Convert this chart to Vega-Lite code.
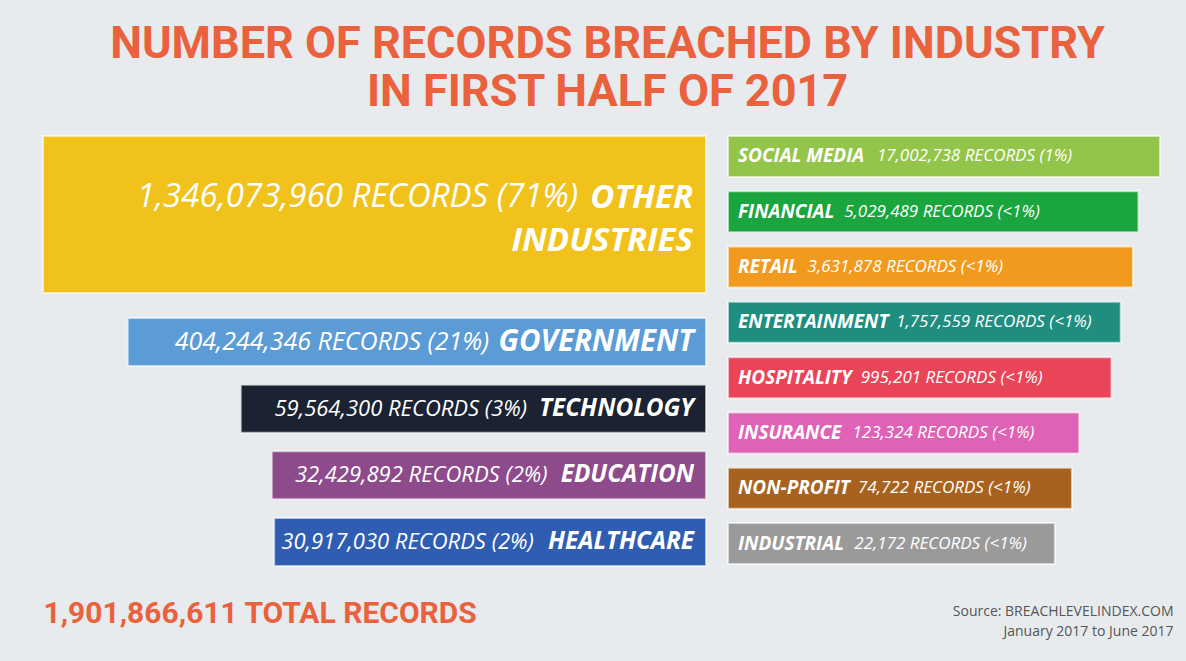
{
  "$schema": "https://vega.github.io/schema/vega-lite/v6.json",
  "background": "#e7ebee",
  "padding": {"left": 42, "right": 29, "top": 22, "bottom": 24},
  "title": {
    "text": ["NUMBER OF RECORDS BREACHED BY INDUSTRY", "IN FIRST HALF OF 2017"],
    "font": "Roboto",
    "fontSize": 45,
    "fontWeight": "bold",
    "color": "#e9613d",
    "anchor": "middle",
    "lineHeight": 48,
    "offset": 20
  },
  "datasets": {
    "breaches": [
      {"col": "left", "industry": "OTHER INDUSTRIES", "records": 1346073960, "pct": "71%"},
      {"col": "left", "industry": "GOVERNMENT", "records": 404244346, "pct": "21%"},
      {"col": "left", "industry": "TECHNOLOGY", "records": 59564300, "pct": "3%"},
      {"col": "left", "industry": "EDUCATION", "records": 32429892, "pct": "2%"},
      {"col": "left", "industry": "HEALTHCARE", "records": 30917030, "pct": "2%"},
      {"col": "right", "industry": "SOCIAL MEDIA", "records": 17002738, "pct": "1%"},
      {"col": "right", "industry": "FINANCIAL", "records": 5029489, "pct": "<1%"},
      {"col": "right", "industry": "RETAIL", "records": 3631878, "pct": "<1%"},
      {"col": "right", "industry": "ENTERTAINMENT", "records": 1757559, "pct": "<1%"},
      {"col": "right", "industry": "HOSPITALITY", "records": 995201, "pct": "<1%"},
      {"col": "right", "industry": "INSURANCE", "records": 123324, "pct": "<1%"},
      {"col": "right", "industry": "NON-PROFIT", "records": 74722, "pct": "<1%"},
      {"col": "right", "industry": "INDUSTRIAL", "records": 22172, "pct": "<1%"}
    ]
  },
  "spacing": 20,
  "hconcat": [
    {
      "spacing": 23,
      "vconcat": [
        {
          "width": 663,
          "height": 157,
          "data": {"name": "breaches"},
          "transform": [
            {"filter": "datum.industry === 'OTHER INDUSTRIES'"},
            {"calculate": "format(datum.records, ',') + ' RECORDS (' + datum.pct + ')'", "as": "detail"},
            {"calculate": "split(datum.industry, ' ')", "as": "lines"},
            {"calculate": "split(datum.industry, ' ')[0]", "as": "nm"},
            {"calculate": "0.93*length(replace(datum.nm, regexp('[^MW]','g'), '')) + 0.3*length(replace(datum.nm, regexp('[^I -]','g'), '')) + 0.55*length(replace(datum.nm, regexp('[^EFLTSYJZ]','g'), '')) + 0.75*length(replace(datum.nm, regexp('[^OQGCDNHU]','g'), '')) + 0.65*length(replace(datum.nm, regexp('[MWI EFLTSYJZOQGCDNHU-]','g'), ''))", "as": "em"},
            {"calculate": "-(13 + 33*datum.em*0.94 + 14)", "as": "off"}
          ],
          "encoding": {
            "y": {"field": "industry", "type": "nominal", "axis": null, "scale": {"paddingInner": 0, "paddingOuter": 0}}
          },
          "layer": [
            {
              "mark": {"type": "bar", "stroke": "#ffffff", "strokeWidth": 2, "strokeOpacity": 0.6},
              "encoding": {
                "x": {"field": "records", "type": "quantitative", "axis": null, "scale": {"type": "pow", "exponent": 0.1136, "domain": [0, 1346073960], "nice": false, "reverse": true}},
                "color": {"field": "industry", "type": "nominal", "legend": null,
                  "scale": {"domain": ["OTHER INDUSTRIES", "GOVERNMENT", "TECHNOLOGY", "EDUCATION", "HEALTHCARE", "SOCIAL MEDIA", "FINANCIAL", "RETAIL", "ENTERTAINMENT", "HOSPITALITY", "INSURANCE", "NON-PROFIT", "INDUSTRIAL"],
                            "range": ["#f1c21c", "#5b9bd6", "#1b2231", "#8d4b8c", "#2f5db1", "#93c54a", "#1aa53e", "#f29a1e", "#1f8e7e", "#ea4459", "#de63b6", "#a8621f", "#9a9a9a"]}}
              }
            },
            {
              "mark": {"type": "text", "align": "right", "baseline": "middle", "dx": -13, "dy": -17, "font": "Open Sans", "fontSize": 33, "fontWeight": "bold", "fontStyle": "italic", "color": "#ffffff", "lineHeight": 43},
              "encoding": {
                "x": {"datum": 0, "type": "quantitative", "axis": null},
                "text": {"field": "lines"}
              }
            },
            {
              "mark": {"type": "text", "align": "right", "baseline": "middle", "dy": -18, "font": "Open Sans", "fontSize": 33, "fontStyle": "italic", "color": "#ffffff"},
              "encoding": {
                "x": {"datum": 0, "type": "quantitative", "axis": null},
                "xOffset": {"field": "off", "type": "quantitative", "scale": null},
                "text": {"field": "detail"}
              }
            }
          ]
        },
        {
          "width": 663,
          "height": 248,
          "data": {"name": "breaches"},
          "transform": [
            {"filter": "datum.col === 'left' && datum.industry !== 'OTHER INDUSTRIES'"},
            {"calculate": "format(datum.records, ',') + ' RECORDS (' + datum.pct + ')'", "as": "detail"},
            {"calculate": "datum.industry", "as": "nm"},
            {"calculate": "0.93*length(replace(datum.nm, regexp('[^MW]','g'), '')) + 0.3*length(replace(datum.nm, regexp('[^I -]','g'), '')) + 0.55*length(replace(datum.nm, regexp('[^EFLTSYJZ]','g'), '')) + 0.75*length(replace(datum.nm, regexp('[^OQGCDNHU]','g'), '')) + 0.65*length(replace(datum.nm, regexp('[MWI EFLTSYJZOQGCDNHU-]','g'), ''))", "as": "em"},
            {"calculate": "-(12 + (datum.records > 100000000 ? 29.5 : 24.3)*datum.em*0.94 + 14)", "as": "off"}
          ],
          "encoding": {
            "y": {"field": "industry", "type": "nominal", "axis": null, "sort": {"field": "records", "order": "descending"}, "scale": {"paddingInner": 0.28, "paddingOuter": 0}}
          },
          "resolve": {"scale": {"size": "independent"}},
          "layer": [
            {
              "mark": {"type": "bar", "stroke": "#ffffff", "strokeWidth": 2, "strokeOpacity": 0.6},
              "encoding": {
                "x": {"field": "records", "type": "quantitative",
                  "scale": {"type": "pow", "exponent": 0.1136, "domain": [0, 1346073960], "nice": false, "reverse": true},
                  "axis": {"domain": false, "ticks": false, "labels": false, "grid": false, "title": "1,901,866,611 TOTAL RECORDS", "titleFont": "Roboto", "titleFontSize": 30, "titleFontWeight": "bold", "titleColor": "#e9613d", "titleX": 0, "titleAlign": "left", "titlePadding": 32}},
                "color": {"field": "industry", "type": "nominal", "legend": null}
              }
            },
            {
              "mark": {"type": "text", "align": "right", "baseline": "middle", "dx": -12, "font": "Open Sans", "fontWeight": "bold", "fontStyle": "italic", "color": "#ffffff"},
              "encoding": {
                "x": {"datum": 0, "type": "quantitative"},
                "text": {"field": "nm"},
                "size": {"field": "records", "type": "quantitative", "legend": null, "scale": {"type": "threshold", "domain": [100000000], "range": [24.3, 29.5]}}
              }
            },
            {
              "mark": {"type": "text", "align": "right", "baseline": "middle", "font": "Open Sans", "fontStyle": "italic", "color": "#ffffff"},
              "encoding": {
                "x": {"datum": 0, "type": "quantitative"},
                "xOffset": {"field": "off", "type": "quantitative", "scale": null},
                "text": {"field": "detail"},
                "size": {"field": "records", "type": "quantitative", "legend": null, "scale": {"type": "threshold", "domain": [100000000], "range": [22, 25]}}
              }
            }
          ]
        }
      ]
    },
    {
      "width": 432,
      "height": 428,
      "data": {"name": "breaches"},
      "transform": [
        {"filter": "datum.col === 'right'"},
        {"calculate": "format(datum.records, ',') + ' RECORDS (' + datum.pct + ')'", "as": "detail"},
        {"calculate": "datum.industry", "as": "nm"},
        {"calculate": "0.93*length(replace(datum.nm, regexp('[^MW]','g'), '')) + 0.3*length(replace(datum.nm, regexp('[^I -]','g'), '')) + 0.55*length(replace(datum.nm, regexp('[^EFLTSYJZ]','g'), '')) + 0.75*length(replace(datum.nm, regexp('[^OQGCDNHU]','g'), '')) + 0.65*length(replace(datum.nm, regexp('[MWI EFLTSYJZOQGCDNHU-]','g'), ''))", "as": "em"},
        {"calculate": "10 + 19*datum.em*0.965 + 10", "as": "off"}
      ],
      "encoding": {
        "y": {"field": "industry", "type": "nominal", "axis": null, "sort": {"field": "records", "order": "descending"}, "scale": {"paddingInner": 0.259, "paddingOuter": 0}}
      },
      "layer": [
        {
          "mark": {"type": "bar", "stroke": "#ffffff", "strokeWidth": 2, "strokeOpacity": 0.6},
          "encoding": {
            "x": {"field": "records", "type": "quantitative",
              "scale": {"type": "pow", "exponent": 0.042, "domain": [0, 17002738], "nice": false},
              "axis": {"domain": false, "ticks": false, "labels": false, "grid": false, "title": ["Source: BREACHLEVELINDEX.COM", "January 2017 to June 2017"], "titleFont": "Open Sans", "titleFontSize": 14, "titleFontWeight": "normal", "titleColor": "#555555", "titleX": 445, "titleAlign": "right", "titleLineHeight": 20, "titlePadding": 40}},
            "color": {"field": "industry", "type": "nominal", "legend": null}
          }
        },
        {
          "mark": {"type": "text", "align": "left", "baseline": "middle", "dx": 10, "font": "Open Sans", "fontSize": 19, "fontWeight": "bold", "fontStyle": "italic", "color": "#ffffff"},
          "encoding": {
            "x": {"datum": 0, "type": "quantitative"},
            "text": {"field": "nm"}
          }
        },
        {
          "mark": {"type": "text", "align": "left", "baseline": "middle", "font": "Open Sans", "fontSize": 17, "fontStyle": "italic", "color": "#ffffff"},
          "encoding": {
            "x": {"datum": 0, "type": "quantitative"},
            "xOffset": {"field": "off", "type": "quantitative", "scale": null},
            "text": {"field": "detail"}
          }
        }
      ]
    }
  ],
  "config": {"view": {"stroke": null}}
}
